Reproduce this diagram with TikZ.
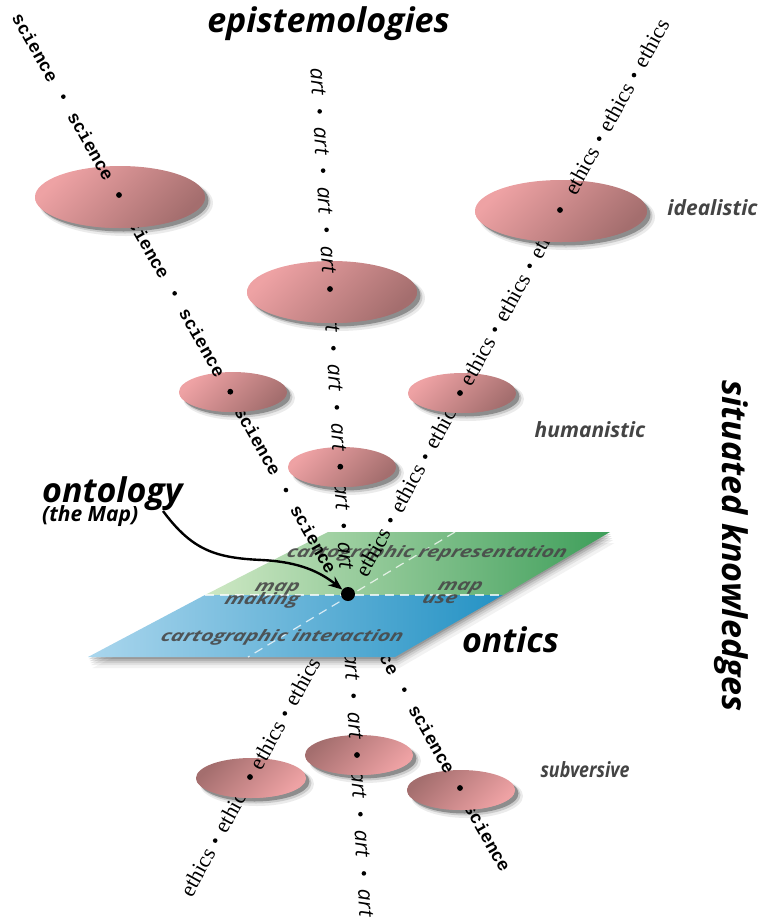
\documentclass[tikz,border=0pt]{standalone}
\usepackage{fontspec}
\setmainfont{Liberation Serif}
\newfontfamily\labf{Open Sans}
\newfontfamily\monof{Liberation Mono}
\newfontfamily\serf{Liberation Serif}
\newfontfamily\artf{Open Sans}
\usetikzlibrary{arrows.meta}
\definecolor{ellL}{RGB}{238,162,164}
\definecolor{ellD}{RGB}{164,110,110}
\definecolor{grL}{RGB}{206,232,196}
\definecolor{grD}{RGB}{62,158,90}
\definecolor{blL}{RGB}{170,214,237}
\definecolor{blD}{RGB}{36,146,196}
\definecolor{labgray}{RGB}{68,68,68}
\definecolor{plgray}{RGB}{72,72,72}

% ---------- text lines ----------
\newcommand\sciTop{%
 \foreach \s [count=\i] in {-169.5,-56.5,56.5,169.5,282.5,395.5}{\node[sciw] (sT\i) at ({119+0.4925*\s},{195+0.8703*\s}) {science};}
 \foreach \s in {-113,113,339}{\fill ({119+0.4925*\s},{195+0.8703*\s}) circle[radius=2.3];}}
\newcommand\artTop{%
 \foreach \s [count=\i] in {-207.55,-148.25,-88.95,-29.65,29.65,88.95,148.25,207.55,266.85}{\node[artw] (aT\i) at ({330+0.058*\s},{289+0.9983*\s}) {art};}
 \foreach \s in {-177.9,-118.6,-59.3,59.3,118.6,237.2}{\fill ({330+0.058*\s},{289+0.9983*\s}) circle[radius=2.3];}}
\newcommand\ethTop{%
 \foreach \s [count=\i] in {-181.25,-108.75,-36.25,36.25,108.75,181.25,253.75,326.25,398.75}{\node[ethw] (eT\i) at ({460+0.48*\s},{393-0.877*\s}) {ethics};}
 \foreach \s in {-145,-72.5,72.5,145,290,362.5}{\fill ({460+0.48*\s},{393-0.877*\s}) circle[radius=2.3];}}
\newcommand\sciBot{%
 \foreach \s [count=\i] in {-169.5,-56.5,56.5}{\node[sciw] (sB\i) at ({460+0.4925*\s},{788+0.8703*\s}) {science};}
 \foreach \s in {-113}{\fill ({460+0.4925*\s},{788+0.8703*\s}) circle[radius=2.3];}}
\newcommand\artBot{%
 \foreach \s [count=\i] in {-88.95,-29.65,29.65,88.95,148.25}{\node[artw] (aB\i) at ({357+0.058*\s},{755+0.9983*\s}) {art};}
 \foreach \s in {-59.3,59.3,118.6}{\fill ({357+0.058*\s},{755+0.9983*\s}) circle[radius=2.3];}}
\newcommand\ethBot{%
 \foreach \s [count=\i] in {108.75,36.25,-36.25,-108.75}{\node[ethw] (eB\i) at ({250+0.48*\s},{777-0.877*\s}) {ethics};}
 \foreach \s in {72.5,-72.5}{\fill ({250+0.48*\s},{777-0.877*\s}) circle[radius=2.3];}}

% ---------- ellipse: body under the lines ----------
\newcommand\ellBody[6]{%
 \fill[black,opacity=0.08] ({#1+6},{#2+6}) ellipse[x radius={#3+2},y radius={#4+2}];
 \fill[black,opacity=0.14] ({#1+5},{#2+5}) ellipse[x radius={#3+0.5},y radius={#4+0.5}];
 \fill[black,opacity=0.3] ({#1+3.5},{#2+3.5}) ellipse[x radius=#3,y radius=#4];
 \shade[top color=#5,bottom color=#6,shading angle=45] (#1,#2) ellipse[x radius=#3,y radius=#4];
}
% ---------- ellipse: lower half over the lines, and its centre dot ----------
\newcommand\ellFront[8]{%
 \begin{scope}
  \clip ({#1-#3-2},#6) rectangle ({#1+#3+2},{#2+#4+2});
  \shade[top color=#7,bottom color=#8,shading angle=45] (#1,#2) ellipse[x radius=#3,y radius=#4];
 \end{scope}
 \fill (#5,#6) circle[radius=2.9];
}

\begin{document}
\begin{tikzpicture}[x=1pt,y=-1pt,
  sciw/.style={font=\monof\bfseries\fontsize{18}{18}\selectfont, inner sep=0pt, rotate=-60.5},
  artw/.style={font=\artf\itshape\fontsize{21}{21}\selectfont, inner sep=0pt, rotate=-86.7},
  ethw/.style={font=\serf\fontsize{22}{22}\selectfont, inner sep=0pt, rotate=61.3},
  lab/.style={font=\labf\bfseries\itshape\fontsize{34}{34}\selectfont, inner sep=0pt, text=black},
  sublab/.style={font=\labf\bfseries\itshape\fontsize{21}{21}\selectfont, inner sep=0pt, text=labgray},
  pl/.style={font=\labf\bfseries\itshape\fontsize{21}{21}\selectfont, text=plgray, text opacity=0.9, inner sep=0pt, yscale=0.75, xslant=0.25},
  dashw/.style={white, opacity=0.75, line width=1.2pt, dash pattern=on 9pt off 6pt}]
\useasboundingbox (0,0) rectangle (761,922);

% plane corners
\coordinate (TL) at (328,532);
\coordinate (TR) at (610,532);
\coordinate (MR) at (503,595);
\coordinate (BR) at (395,657);
\coordinate (BL) at (88,657);
\coordinate (ML) at (205,595);
\coordinate (dgT) at (455,532);
\coordinate (dgB) at (248,657);

% plane shadow
\foreach \d/\o in {11/0.05,8/0.07,6/0.09,4/0.12,2/0.15}
  {\fill[black,opacity=\o] ({328+0.4*\d},{532+\d}) -- ({610+0.4*\d},{532+\d}) -- ({395+0.4*\d},{657+\d}) -- ({88+0.4*\d},{657+\d}) -- cycle;}

% lower ellipses and lines
\ellBody{251}{778}{55}{20}{ellD}{ellL}
\ellBody{359}{755}{54}{20}{ellD}{ellL}
\ellBody{461}{790}{54}{20}{ellD}{ellL}
\sciBot\artBot\ethBot
\ellFront{251}{778}{55}{20}{250}{777}{ellD}{ellL}
\ellFront{359}{755}{54}{20}{357}{755}{ellD}{ellL}
\ellFront{461}{790}{54}{20}{460}{788}{ellD}{ellL}

% the plane
\shade[left color=grL, right color=grD] (TL) -- (TR) -- (MR) -- (ML) -- cycle;
\shade[left color=blL, right color=blD] (ML) -- (MR) -- (BR) -- (BL) -- cycle;
\draw[dashw] (ML) -- (MR);
\draw[dashw] (dgT) -- (dgB);
\node[pl] (prep) at (427,553) {cartographic representation};
\node[pl] (pmap1) at (277,589) {map};
\node[pl] (pmak) at (262,600) {making};
\node[pl] (pmap2) at (460,588) {map};
\node[pl] (puse) at (440,599) {use};
\node[pl] (pint) at (282,637) {cartographic interaction};

% upper ellipses and lines
\ellBody{120}{197}{85}{31}{ellL}{ellD}
\ellBody{561}{211}{86}{31}{ellL}{ellD}
\ellBody{332}{292}{85}{31}{ellL}{ellD}
\ellBody{233}{392}{54}{20}{ellL}{ellD}
\ellBody{462}{393}{54}{20}{ellL}{ellD}
\ellBody{342}{467}{54}{20}{ellL}{ellD}
\sciTop\artTop\ethTop
\ellFront{120}{197}{85}{31}{119}{195}{ellL}{ellD}
\ellFront{561}{211}{86}{31}{560}{210}{ellL}{ellD}
\ellFront{332}{292}{85}{31}{330}{289}{ellL}{ellD}
\ellFront{233}{392}{54}{20}{230.3}{391.7}{ellL}{ellD}
\ellFront{462}{393}{54}{20}{460}{393}{ellL}{ellD}
\ellFront{342}{467}{54}{20}{340.3}{466.7}{ellL}{ellD}

% centre and arrow
\node[circle, fill=black, minimum size=14pt, inner sep=0pt] (ctr) at (348,594) {};
\coordinate (arrS) at (163,511);
\draw[line width=2.4pt, -{Stealth[length=14pt,width=11pt]}] (arrS) .. controls (192,550) and (215,558) .. (262,560) .. controls (300,562) and (320,572) .. (ctr);

% labels
\node[lab, anchor=base] (epi) at (328.5,32) {epistemologies};
\node[lab, anchor=base west] (onto) at (42,502) {ontology};
\node[lab, anchor=base west, font=\labf\bfseries\itshape\fontsize{21}{21}\selectfont] (themap) at (42,521) {(the Map)};
\node[lab, anchor=base] (ontics) at (510.5,652) {ontics};
\node[lab, rotate=-90] (sk) at (731,546) {situated knowledges};
\node[sublab, anchor=base] (ideal) at (712.5,215) {idealistic};
\node[sublab, anchor=base] (human) at (590,437) {humanistic};
\node[sublab, anchor=base, xscale=0.85] (subv) at (585,777) {subversive};
\end{tikzpicture}
\end{document}
